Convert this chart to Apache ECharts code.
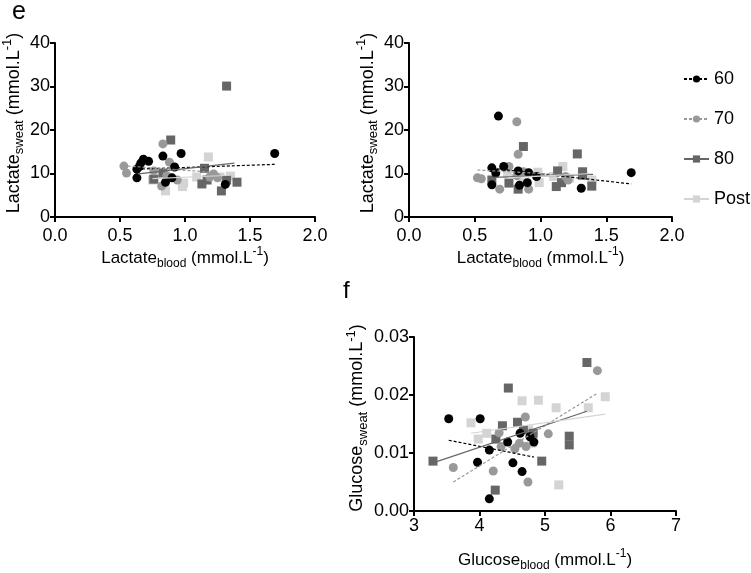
<!DOCTYPE html>
<html>
<head>
<meta charset="utf-8">
<script src="https://cdn.jsdelivr.net/npm/echarts@6/dist/echarts.min.js"></script>
<style>
  html, body { margin: 0; padding: 0; background: #fff; }
  #chart { width: 751px; height: 573px; }
</style>
</head>
<body>
<div id="chart"></div>
<script>
// groups
var groups = ['60', '70', '80', 'Post']
var colors = { '60': '#000000', '70': '#999999', '80': '#666666', 'Post': '#d4d4d4' }
var symbols = { '60': 'circle', '70': 'circle', '80': 'rect', 'Post': 'rect' }

// panel e, left: lactate blood vs lactate sweat
var e1_60 = [[0.63, 11.0], [0.63, 9.0], [0.66, 12.4], [0.68, 13.3], [0.72, 12.8], [0.83, 14.0], [0.97, 14.6], [0.92, 11.5], [0.90, 9.0], [0.85, 8.0], [1.31, 7.5], [1.69, 14.6], [0.65, 11.6]]
var e1_70 = [[0.53, 11.7], [0.55, 10.1], [0.83, 16.8], [0.88, 12.6], [0.76, 10.6], [0.82, 7.1], [0.94, 8.5], [1.19, 9.2], [1.22, 9.9], [1.25, 9.0], [0.86, 9.5]]
var e1_80 = [[1.32, 30.1], [0.89, 17.7], [0.83, 10.1], [0.76, 8.7], [1.15, 11.2], [1.13, 7.6], [1.17, 8.5], [1.28, 6.0], [1.32, 8.5], [1.40, 8.0]]
var e1_post = [[1.18, 13.8], [0.85, 6.0], [0.99, 7.8], [1.09, 9.2], [0.75, 8.5], [1.27, 9.2], [1.35, 9.4], [0.98, 7.0]]
var fitE1 = {
  '60': [[0.63, 11.0], [1.69, 12.1]],
  '70': [[0.52, 11.8], [1.25, 10.2]],
  '80': [[0.64, 9.9], [1.38, 12.4]],
  'Post': [[0.75, 8.8], [1.35, 9.6]]
}

// panel e, right
var e2_60 = [[0.68, 23.2], [0.63, 11.3], [0.66, 10.1], [0.72, 11.6], [0.63, 7.4], [0.83, 10.6], [0.91, 10.2], [0.97, 9.3], [0.90, 7.9], [0.84, 7.3], [1.31, 6.6], [1.69, 10.2]]
var e2_70 = [[0.82, 21.9], [0.83, 14.4], [0.52, 9.0], [0.55, 8.8], [0.76, 11.6], [0.69, 6.4], [0.91, 6.4], [0.87, 10.4], [1.21, 8.5], [1.19, 9.3], [0.82, 9.5]]
var e2_80 = [[0.87, 16.2], [1.28, 14.5], [0.63, 8.5], [0.76, 7.8], [0.83, 6.4], [1.13, 10.6], [1.12, 7.0], [1.16, 7.9], [1.32, 10.4], [1.32, 9.6], [1.39, 7.1]]
var e2_post = [[0.98, 10.3], [0.99, 7.9], [1.10, 9.3], [1.17, 11.6], [1.22, 8.9], [1.39, 8.5], [0.86, 7.9], [0.75, 10.0]]
var fitE2 = {
  '60': [[0.63, 11.2], [1.69, 7.6]],
  '70': [[0.52, 10.8], [1.25, 9.6]],
  '80': [[0.63, 9.1], [1.40, 9.8]],
  'Post': [[0.75, 9.0], [1.39, 10.0]]
}

// panel f: glucose blood vs glucose sweat
var f_60 = [[3.53, 0.0159], [4.01, 0.0159], [3.97, 0.0084], [4.15, 0.0105], [4.43, 0.0119], [4.51, 0.0083], [4.65, 0.0068], [4.62, 0.0134], [4.77, 0.0128], [4.83, 0.0119], [4.15, 0.0021]]
var f_70 = [[3.60, 0.0075], [4.21, 0.0069], [4.30, 0.0135], [4.33, 0.0111], [4.54, 0.0107], [4.61, 0.0117], [4.70, 0.0162], [4.71, 0.0111], [4.74, 0.0050], [5.05, 0.0133], [5.80, 0.0242]]
var f_80 = [[3.29, 0.0086], [4.44, 0.0212], [4.35, 0.0147], [4.25, 0.0124], [4.24, 0.0036], [4.58, 0.0153], [4.67, 0.0140], [4.82, 0.0134], [4.95, 0.0086], [5.37, 0.0129], [5.37, 0.0114], [5.64, 0.0256]]
var f_post = [[3.87, 0.0152], [3.98, 0.0124], [4.11, 0.0134], [4.65, 0.0190], [4.90, 0.0191], [5.17, 0.0178], [5.66, 0.0178], [5.92, 0.0197], [5.21, 0.0045], [4.80, 0.0117], [4.75, 0.0140]]
var fitF = {
  '60': [[3.53, 0.0122], [4.83, 0.0093]],
  '70': [[3.60, 0.0050], [5.80, 0.0203]],
  '80': [[3.29, 0.0083], [5.64, 0.0172]],
  'Post': [[3.87, 0.0134], [5.92, 0.0167]]
}

var font = 'Liberation Sans, Arial, sans-serif'
var lineTypes = { '60': [3, 2], '70': [3, 2], '80': 'solid', 'Post': 'solid' }

function makeRich(size) {
  return {
    a: { fontSize: size, lineHeight: 26, fontFamily: font, color: '#000' },
    sub: { fontSize: size - 5, lineHeight: 14, padding: [12, 0, 0, 0], fontFamily: font, color: '#000' },
    sup: { fontSize: size - 5, lineHeight: 14, padding: [0, 0, 12, 0], fontFamily: font, color: '#000' }
  }
}
function axisName(main, sub) {
  return '{a|' + main + '}{sub|' + sub + '}{a| (mmol.L}{sup|-1}{a|)}'
}

function axisCommon(margin) {
  return {
    axisLine: { show: true, onZero: false, lineStyle: { color: '#000', width: 2 } },
    axisTick: { show: true, length: 5, lineStyle: { color: '#000', width: 2 } },
    splitLine: { show: false },
    nameLocation: 'middle',
    axisLabel: { color: '#000', fontSize: 18, fontFamily: font, margin: margin }
  }
}

var xAxes = [
  Object.assign(axisCommon(10), { gridIndex: 0, type: 'value', min: 0, max: 2, interval: 0.5, name: axisName('Lactate', 'blood'), nameGap: 23, nameTextStyle: { rich: makeRich(17) } }),
  Object.assign(axisCommon(10), { gridIndex: 1, type: 'value', min: 0, max: 2, interval: 0.5, name: axisName('Lactate', 'blood'), nameGap: 23, nameTextStyle: { rich: makeRich(17) } }),
  Object.assign(axisCommon(6), { gridIndex: 2, type: 'value', min: 3, max: 7, interval: 1, name: axisName('Glucose', 'blood'), nameGap: 36, nameTextStyle: { rich: makeRich(17) } })
]
xAxes[0].axisLabel.formatter = function (v) { return v.toFixed(1) }
xAxes[1].axisLabel.formatter = function (v) { return v.toFixed(1) }

var yAxes = [
  Object.assign(axisCommon(5), { gridIndex: 0, type: 'value', min: 0, max: 40, interval: 10, name: axisName('Lactate', 'sweat'), nameGap: 26, nameTextStyle: { rich: makeRich(18), padding: [0, 0, 0, 14] } }),
  Object.assign(axisCommon(5), { gridIndex: 1, type: 'value', min: 0, max: 40, interval: 10, name: axisName('Lactate', 'sweat'), nameGap: 27, nameTextStyle: { rich: makeRich(18), padding: [0, 0, 0, 14] } }),
  Object.assign(axisCommon(5), { gridIndex: 2, type: 'value', min: 0, max: 0.03, interval: 0.01, name: axisName('Glucose', 'sweat'), nameGap: 44, nameTextStyle: { rich: makeRich(18), padding: [0, 0, 0, 12] } })
]
yAxes[2].axisLabel.formatter = function (v) { return v.toFixed(2) }

var panels = [
  { data: { '60': e1_60, '70': e1_70, '80': e1_80, 'Post': e1_post }, fit: fitE1 },
  { data: { '60': e2_60, '70': e2_70, '80': e2_80, 'Post': e2_post }, fit: fitE2 },
  { data: { '60': f_60, '70': f_70, '80': f_80, 'Post': f_post }, fit: fitF }
]

var series = []
// trend lines first so the legend takes its icon from them
panels.forEach(function (p, i) {
  groups.forEach(function (g) {
    series.push({
      name: g,
      type: 'line',
      xAxisIndex: i,
      yAxisIndex: i,
      data: p.fit[g],
      symbol: symbols[g],
      symbolSize: 8,
      showSymbol: false,
      z: 5,
      silent: true,
      itemStyle: { color: colors[g] },
      lineStyle: { color: colors[g], width: 1.2, type: lineTypes[g] }
    })
  })
})
panels.forEach(function (p, i) {
  ['Post', '80', '70', '60'].forEach(function (g) {
    series.push({
      name: g,
      type: 'scatter',
      xAxisIndex: i,
      yAxisIndex: i,
      data: p.data[g],
      symbol: symbols[g],
      symbolSize: 9,
      itemStyle: { color: colors[g], opacity: 1 }
    })
  })
})

var option = {
  backgroundColor: '#fff',
  animation: false,
  grid: [
    { left: 55, top: 43, width: 260, height: 174 },
    { left: 409, top: 43, width: 263, height: 174 },
    { left: 414, top: 337, width: 262, height: 174 }
  ],
  xAxis: xAxes,
  yAxis: yAxes,
  legend: {
    data: groups,
    orient: 'vertical',
    left: 683,
    top: 70,
    padding: 0,
    itemWidth: 25,
    itemHeight: 9,
    itemGap: 22,
    textStyle: { fontSize: 18, fontFamily: font, color: '#000', overflow: 'none' }
  },
  graphic: [
    { type: 'text', left: 12, top: 0, style: { text: 'e', fontSize: 25, fontFamily: font, fill: '#000' } },
    { type: 'text', left: 343, top: 279, style: { text: 'f', fontSize: 24, fontFamily: font, fill: '#000' } }
  ],
  series: series
}

var myChart = echarts.init(document.getElementById('chart'))
myChart.setOption(option)
</script>
</body>
</html>
